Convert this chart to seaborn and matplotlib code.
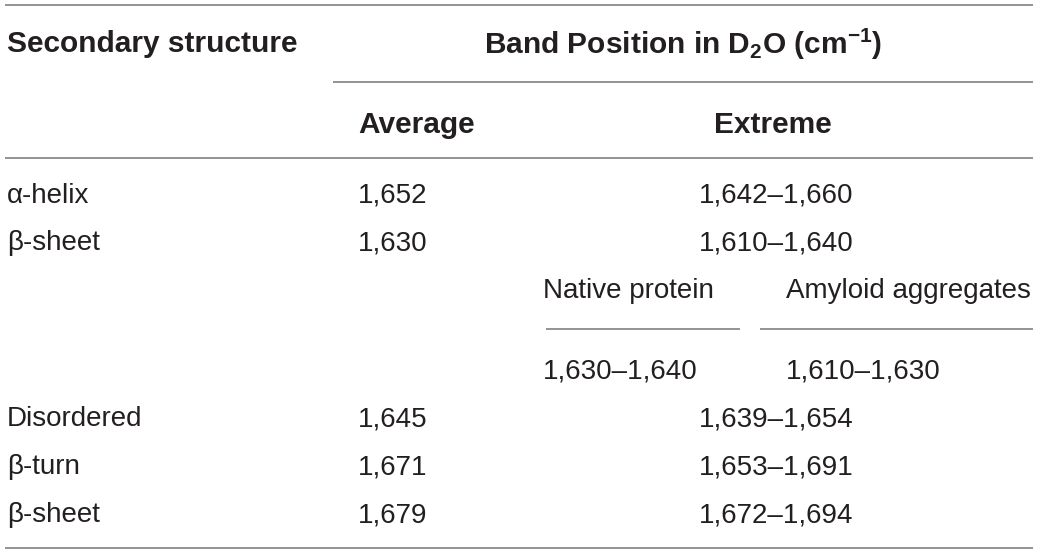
import matplotlib
matplotlib.use("Agg")
import matplotlib.pyplot as plt
import seaborn as sns

# ---- table data ----
structures = ["α-helix", "β-sheet", "Disordered", "β-turn", "β-sheet"]
averages = ["1,652", "1,630", "1,645", "1,671", "1,679"]
extremes = ["1,642–1,660", "1,610–1,640", "1,639–1,654", "1,653–1,691", "1,672–1,694"]
sub_headers = ["Native protein", "Amyloid aggregates"]
sub_values = ["1,630–1,640", "1,610–1,630"]
col_headers = ["Secondary structure", "Average", "Extreme"]
span_header = r"Band Position in D$_2$O (cm$^{-1}$)"

sns.set_theme(style="white")
plt.rcParams["font.family"] = ["Liberation Sans", "DejaVu Sans"]
plt.rcParams["mathtext.fontset"] = "custom"
plt.rcParams["mathtext.rm"] = "Liberation Sans:bold"
plt.rcParams["mathtext.default"] = "rm"

W, H = 1039, 554
fig = plt.figure(figsize=(W / 100, H / 100), dpi=100)
ax = fig.add_axes([0, 0, 1, 1])
ax.set_xlim(0, W)
ax.set_ylim(H, 0)
ax.axis("off")

txt = "#231f20"
line_c = "#8a8a8a"
fs_b = 21.5
fs = 20
dy = 2

def hline(y, x0, x1):
    ax.plot([x0, x1], [y, y], color=line_c, lw=1.3, solid_capstyle="butt")

# rules
hline(5, 5, 1033)
hline(82, 333, 1033)
hline(158, 5, 1033)
hline(329, 546, 740)
hline(329, 760, 1033)
hline(548, 5, 1033)

# header
ax.text(7, 42 + dy, col_headers[0], fontsize=fs_b, fontweight="bold", color=txt, va="center", ha="left")
ax.text(683, 42 + dy, span_header, fontsize=fs_b, fontweight="bold", color=txt, va="center", ha="center")
ax.text(358, 123 + dy, col_headers[1], fontsize=fs_b, fontweight="bold", color=txt, va="center", ha="left")
ax.text(773, 123 + dy, col_headers[2], fontsize=fs_b, fontweight="bold", color=txt, va="center", ha="center")

# body rows
row_y = [194, 241, 417, 465, 513]
for y, s, a, e in zip(row_y, structures, averages, extremes):
    ax.text(7, y + dy, s, fontsize=fs, color=txt, va="center", ha="left")
    ax.text(358, y + dy, a, fontsize=fs, color=txt, va="center", ha="left")
    ax.text(776, y + dy, e, fontsize=fs, color=txt, va="center", ha="center")

# sub-split of beta-sheet extreme
for x, h, v in zip([543, 786], sub_headers, sub_values):
    ax.text(x, 289 + dy, h, fontsize=fs, color=txt, va="center", ha="left")
    ax.text(x, 370 + dy, v, fontsize=fs, color=txt, va="center", ha="left")

fig.savefig("out.png", dpi=100)
